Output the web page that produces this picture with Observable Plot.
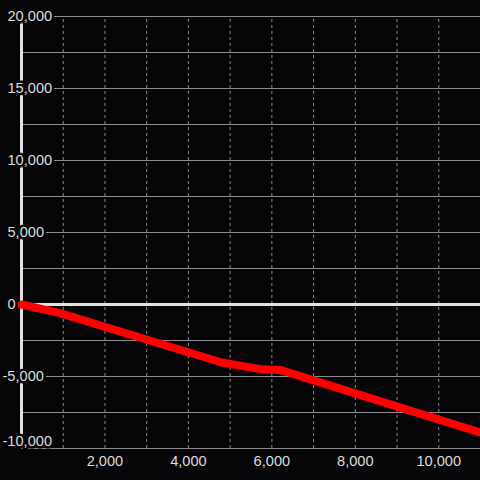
<!DOCTYPE html>
<html>
<head>
<meta charset="utf-8">
<script src="https://cdn.jsdelivr.net/npm/d3@7"></script>
<script src="https://cdn.jsdelivr.net/npm/@observablehq/plot@0.6"></script>
<style>
  html, body { margin: 0; padding: 0; background: #060608; }
  #chart { width: 480px; height: 480px; }
</style>
</head>
<body>
<div id="chart"></div>
<script>
// Series values
const seriesX = [0, 900, 4800, 5800, 6200, 11000];
const seriesY = [0, -580, -4030, -4520, -4540, -8900];

// Ticks
const xGrid = [1000, 2000, 3000, 4000, 5000, 6000, 7000, 8000, 9000, 10000];
const xLabels = [2000, 4000, 6000, 8000, 10000];
const yGrid = [-10000, -7500, -5000, -2500, 2500, 5000, 7500, 10000, 12500, 15000, 17500, 20000];
const yLabelsPos = [0, 5000, 10000, 15000, 20000];
const yLabelsNeg = [-5000];
const yLabelsBottom = [-10000];

const data = seriesX.map((x, i) => ({x, y: seriesY[i]}));
const fmt = v => v.toLocaleString("en-US");
const bg = "#060608";
const fg = "#dcdcdc";
const font = "'Liberation Sans', Arial, sans-serif";
const fs = 14.6;

const chart = Plot.plot({
  width: 480,
  height: 480,
  marginLeft: 21,
  marginRight: 0,
  marginTop: 16,
  marginBottom: 32,
  style: {background: bg, color: fg, fontFamily: font, fontSize: fs + "px"},
  x: {domain: [0, 11000], axis: null},
  y: {domain: [-10000, 20000], axis: null},
  marks: [
    Plot.ruleX(xGrid, {x: d => d, y1: -10000, y2: 20000, stroke: "#8c8c8c", strokeWidth: 1, strokeDasharray: "3,3"}),
    Plot.ruleY(yGrid, {y: d => d, x1: 0, x2: 11000, stroke: "#8c8c8c", strokeWidth: 1}),
    Plot.ruleY([0], {y: d => d, x1: 0, x2: 11000, stroke: "#e2e2e2", strokeWidth: 3}),
    Plot.ruleX([0], {x: d => d, y1: -10000, y2: 20000, stroke: "#e2e2e2", strokeWidth: 3}),
    Plot.line(data, {x: "x", y: "y", stroke: "#ff0000", strokeWidth: 8}),
    Plot.text(yLabelsPos, {x: () => 0, y: d => d, text: fmt, textAnchor: "start", dx: -14, fill: fg, stroke: bg, strokeWidth: 5, fontSize: fs}),
    Plot.text(yLabelsNeg, {x: () => 0, y: d => d, text: fmt, textAnchor: "start", dx: -19, fill: fg, stroke: bg, strokeWidth: 5, fontSize: fs}),
    Plot.text(yLabelsBottom, {x: () => 0, y: d => d, text: fmt, textAnchor: "start", dx: -19, dy: -7, fill: fg, stroke: bg, strokeWidth: 5, fontSize: fs}),
    Plot.text(xLabels, {x: d => d, y: () => -10000, text: fmt, dy: 12.5, fill: fg, fontSize: fs})
  ]
});
document.getElementById("chart").appendChild(chart);
</script>
</body>
</html>
